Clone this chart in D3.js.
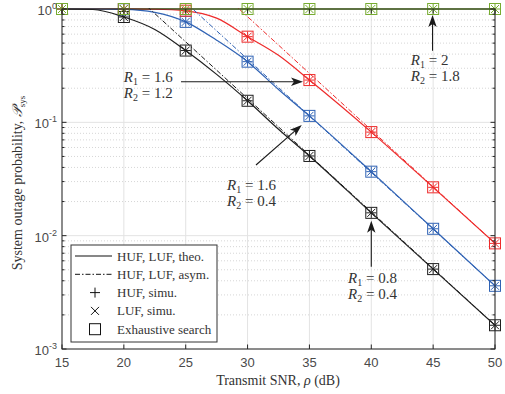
<!DOCTYPE html>
<html><head><meta charset="utf-8">
<script src="https://cdn.jsdelivr.net/npm/d3@7"></script>
<style>body{margin:0;background:#fff}svg{display:block}</style>
</head><body>
<svg id="c" width="505" height="394"></svg>
<script>
// ---- data ----
const rhoTheo = [15, 17.5, 20, 22.5, 25, 27.5, 30, 32.5, 35, 40, 45, 50];
const theoBlack = [1.0, 0.99, 0.85, 0.66, 0.43, 0.265, 0.155, 0.087, 0.0505, 0.0159, 0.00507, 0.00162];
const theoBlue  = [1.0, 1.0, 0.993, 0.935, 0.77, 0.53, 0.343, 0.195, 0.114, 0.0367, 0.0115, 0.00361];
const theoRed   = [1.0, 1.0, 1.0, 0.995, 0.963, 0.83, 0.57, 0.39, 0.236, 0.082, 0.0267, 0.00855];
const theoGreen = [1, 1, 1, 1, 1, 1, 1, 1, 1, 1, 1, 1];

const rhoSim = [15, 20, 25, 30, 35, 40, 45, 50];
const simBlack = [1.0, 0.85, 0.43, 0.155, 0.0505, 0.0159, 0.00507, 0.00162];
const simBlue  = [1.0, 0.995, 0.77, 0.343, 0.114, 0.0367, 0.0115, 0.00361];
const simRed   = [1.0, 1.0, 0.966, 0.57, 0.236, 0.082, 0.0267, 0.00855];
const simGreen = [1, 1, 1, 1, 1, 1, 1, 1];

const asymRho = [15, 50];
const asymBlack = [5.13, 0.00162];
const asymBlue  = [11.4, 0.00361];
const asymRed   = [27.0, 0.00855];

const xTicks = [15, 20, 25, 30, 35, 40, 45, 50];
const yTicks = [1e-3, 1e-2, 1e-1, 1];
const yTickExp = ["-3", "-2", "-1", "0"];

const legendLabels = ["HUF, LUF, theo.", "HUF, LUF, asym.", "HUF, simu.", "LUF, simu.", "Exhaustive search"];

// annotations: [rho, P] anchors
const annotations = [
  {r1: "1.6", r2: "1.2", text: [20.0, 0.228], from: [24.62, 0.228], to: [34.48, 0.228]},
  {r1: "1.6", r2: "0.4", text: [28.34, 0.0255], from: [30.68, 0.042], to: [34.38, 0.0947]},
  {r1: "2",   r2: "1.8", text: [43.19, 0.32], from: [44.95, 0.428], to: [44.95, 0.885]},
  {r1: "0.8", r2: "0.4", text: [38.12, 0.0038], from: [40, 0.00532], to: [40, 0.01355]}
];

// ---- layout ----
const L = 62, R = 495, T = 9, B = 349;
const x = d3.scaleLinear().domain([15, 50]).range([L, R]);
const y = d3.scaleLog().domain([1e-3, 1]).range([B, T]);
const svg = d3.select("#c");
const serif = "'Liberation Serif', 'Times New Roman', serif";
const sans = "'Liberation Sans', Arial, sans-serif";

const colors = {black: "#1f1f1f", blue: "#2f62b4", red: "#ee2b2b", green: "#77ac30"};

// grid
const g = svg.append("g");
xTicks.forEach(t => g.append("line").attr("x1", x(t)).attr("x2", x(t)).attr("y1", T).attr("y2", B)
  .attr("stroke", "#e3e3e3").attr("stroke-width", 1));
const minors = [];
for (let e = -3; e < 0; e++) for (let m = 2; m <= 9; m++) minors.push(m * 10 ** e);
minors.forEach(v => g.append("line").attr("x1", L).attr("x2", R).attr("y1", y(v)).attr("y2", y(v))
  .attr("stroke", "#d6d6d6").attr("stroke-width", 1).attr("stroke-dasharray", "1,2"));
yTicks.forEach(v => g.append("line").attr("x1", L).attr("x2", R).attr("y1", y(v)).attr("y2", y(v))
  .attr("stroke", "#e3e3e3").attr("stroke-width", 1));

// clip
svg.append("clipPath").attr("id", "clip").append("rect").attr("x", L).attr("y", T - 1).attr("width", R - L).attr("height", B - T + 1);
const plot = svg.append("g").attr("clip-path", "url(#clip)");

const lineGen = d3.line().x(d => x(d[0])).y(d => y(d[1])).curve(d3.curveMonotoneX);
const straight = d3.line().x(d => x(d[0])).y(d => y(d[1]));

const series = [
  {theo: theoGreen, sim: simGreen, asym: null, c: colors.green, w: 1.5},
  {theo: theoRed, sim: simRed, asym: asymRed, c: colors.red, w: 1.2},
  {theo: theoBlue, sim: simBlue, asym: asymBlue, c: colors.blue, w: 1.2},
  {theo: theoBlack, sim: simBlack, asym: asymBlack, c: colors.black, w: 1.2}
];

series.forEach(s => {
  if (s.asym) {
    plot.append("path").datum(asymRho.map((r, i) => [r, s.asym[i]]))
      .attr("d", straight).attr("fill", "none").attr("stroke", s.c).attr("stroke-width", 1)
      .attr("stroke-dasharray", "5,2,1.5,2");
  }
  plot.append("path").datum(rhoTheo.map((r, i) => [r, s.theo[i]]))
    .attr("d", lineGen).attr("fill", "none").attr("stroke", s.c).attr("stroke-width", s.w);
});

function marker(gr, cx, cy, c, kind) {
  const h = 5.5, p = 5, q = 4;
  if (kind === "sq" || kind === "all") gr.append("rect").attr("x", cx - h).attr("y", cy - h).attr("width", 2 * h).attr("height", 2 * h)
    .attr("fill", "none").attr("stroke", c).attr("stroke-width", 1);
  if (kind === "plus" || kind === "all") gr.append("path").attr("d", `M${cx - p},${cy}H${cx + p}M${cx},${cy - p}V${cy + p}`)
    .attr("stroke", c).attr("stroke-width", 1).attr("fill", "none");
  if (kind === "x" || kind === "all") gr.append("path").attr("d", `M${cx - q},${cy - q}L${cx + q},${cy + q}M${cx - q},${cy + q}L${cx + q},${cy - q}`)
    .attr("stroke", c).attr("stroke-width", 1).attr("fill", "none");
}
const mk = svg.append("g");
series.slice().reverse().forEach(s => {
  rhoSim.forEach((r, i) => marker(mk, x(r), y(s.sim[i]), s.c, "all"));
});

// axes box
const ax = svg.append("g").attr("stroke", "#262626").attr("fill", "none");
ax.append("rect").attr("x", L).attr("y", T).attr("width", R - L).attr("height", B - T).attr("stroke-width", 1);
xTicks.forEach(t => {
  ax.append("line").attr("x1", x(t)).attr("x2", x(t)).attr("y1", B).attr("y2", B - 4.5);
  ax.append("line").attr("x1", x(t)).attr("x2", x(t)).attr("y1", T).attr("y2", T + 4.5);
});
yTicks.forEach(v => {
  ax.append("line").attr("x1", L).attr("x2", L + 4.5).attr("y1", y(v)).attr("y2", y(v));
  ax.append("line").attr("x1", R).attr("x2", R - 4.5).attr("y1", y(v)).attr("y2", y(v));
});
minors.forEach(v => {
  ax.append("line").attr("x1", L).attr("x2", L + 2.5).attr("y1", y(v)).attr("y2", y(v));
  ax.append("line").attr("x1", R).attr("x2", R - 2.5).attr("y1", y(v)).attr("y2", y(v));
});

// tick labels
const tl = svg.append("g").attr("font-family", sans).attr("fill", "#4a4a4a");
xTicks.forEach(t => tl.append("text").attr("x", x(t)).attr("y", 367).attr("text-anchor", "middle")
  .attr("font-size", 13).text(t));
yTicks.forEach((v, i) => {
  const t = tl.append("text").attr("x", 57).attr("y", y(v) + 6).attr("text-anchor", "end").attr("font-size", 13);
  t.append("tspan").text("10");
  t.append("tspan").attr("dy", -6).attr("font-size", 9).text(yTickExp[i]);
});

// axis labels
svg.append("text").attr("x", 278).attr("y", 385).attr("text-anchor", "middle")
  .attr("font-family", serif).attr("font-size", 14).attr("fill", "#333")
  .html('Transmit SNR, <tspan font-style="italic">ρ</tspan> (dB)');
const yl = svg.append("text").attr("transform", "translate(22,183) rotate(-90)").attr("text-anchor", "middle")
  .attr("font-family", serif).attr("font-size", 14).attr("fill", "#333");
yl.append("tspan").text("System outage probability, ");
yl.append("tspan").attr("font-style", "italic").attr("font-family", "'DejaVu Serif', serif").text("𝒫");
yl.append("tspan").attr("dy", 3).attr("font-size", 9).text("sys");

// annotations
function arrow(x1, y1, x2, y2) {
  const a = svg.append("g");
  const ang = Math.atan2(y2 - y1, x2 - x1);
  const len = 12, w = 4.2, notch = 3;
  const bx = x2 - len * Math.cos(ang), by = y2 - len * Math.sin(ang);
  a.append("line").attr("x1", x1).attr("y1", y1).attr("x2", x2 - (len - notch) * Math.cos(ang)).attr("y2", y2 - (len - notch) * Math.sin(ang))
    .attr("stroke", "#1a1a1a").attr("stroke-width", 1.1);
  const nx = -Math.sin(ang), ny = Math.cos(ang);
  const nxp = bx + notch * Math.cos(ang), nyp = by + notch * Math.sin(ang);
  a.append("path").attr("d", `M${x2},${y2}L${bx + w * nx},${by + w * ny}L${nxp},${nyp}L${bx - w * nx},${by - w * ny}Z`)
    .attr("fill", "#1a1a1a");
}
annotations.forEach(a => {
  arrow(x(a.from[0]), y(a.from[1]), x(a.to[0]), y(a.to[1]));
  const tx = x(a.text[0]), ty = y(a.text[1]);
  [[1, a.r1], [2, a.r2]].forEach(([k, v], i) => {
    const t = svg.append("text").attr("x", tx).attr("y", ty + i * 16).attr("font-family", serif)
      .attr("font-size", 15).attr("fill", "#333");
    t.append("tspan").attr("font-style", "italic").text("R");
    t.append("tspan").attr("dy", 3).attr("font-size", 10).text(k);
    t.append("tspan").attr("dy", -3).text(" = " + v);
  });
});

// legend
const lg = svg.append("g");
lg.append("rect").attr("x", 71).attr("y", 245).attr("width", 146).attr("height", 97)
  .attr("fill", "#fff").attr("stroke", "#333").attr("stroke-width", 1);
const ly = [256, 274.3, 292.6, 310.9, 329.2];
lg.append("line").attr("x1", 75).attr("x2", 112).attr("y1", ly[0]).attr("y2", ly[0]).attr("stroke", "#111").attr("stroke-width", 1.2);
lg.append("line").attr("x1", 75).attr("x2", 112).attr("y1", ly[1]).attr("y2", ly[1]).attr("stroke", "#111").attr("stroke-width", 1)
  .attr("stroke-dasharray", "5,2,1.5,2");
marker(lg, 95, ly[2], "#111", "plus");
marker(lg, 95, ly[3], "#111", "x");
marker(lg, 95, ly[4], "#111", "sq");
legendLabels.forEach((s, i) => lg.append("text").attr("x", 117).attr("y", ly[i] + 4.5)
  .attr("font-family", serif).attr("font-size", 13).attr("fill", "#333").text(s));
</script>
</body></html>
